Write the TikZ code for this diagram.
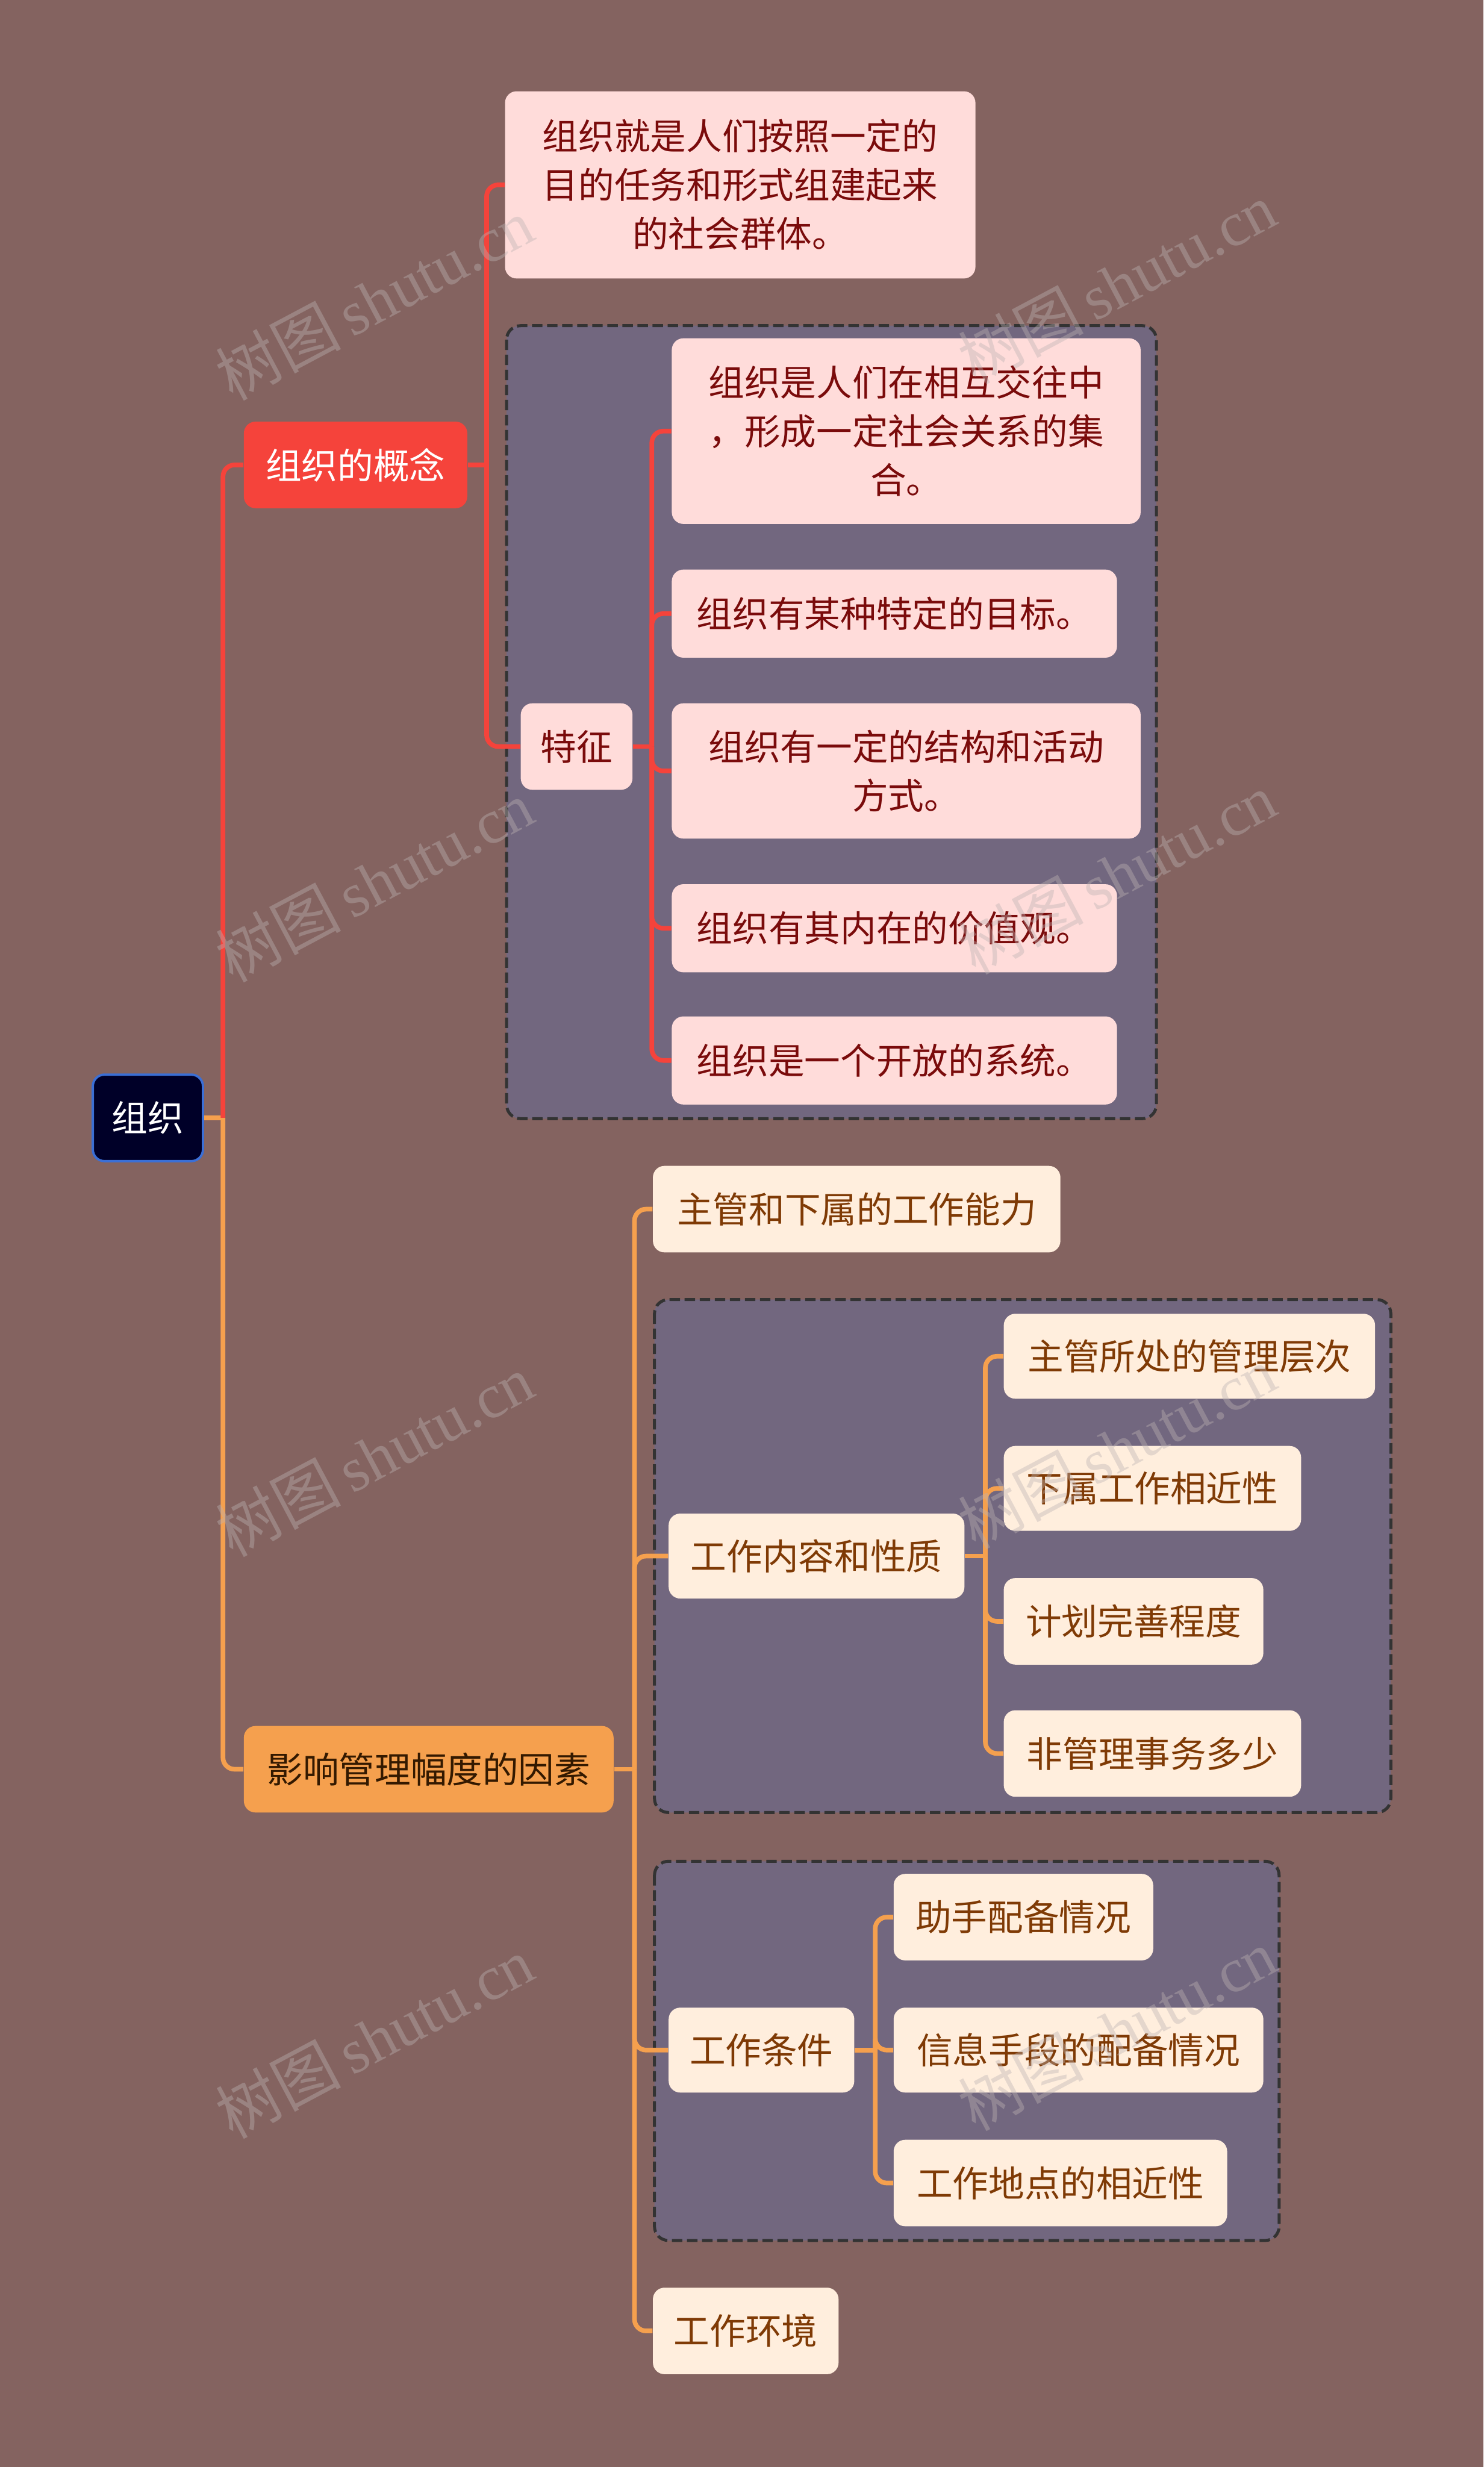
\documentclass[tikz,border=0pt]{standalone}
\usepackage{fontspec}
\newfontfamily\cjk{Noto Sans CJK SC}
\newfontfamily\wmserif{Liberation Serif}
\usetikzlibrary{calc}
\definecolor{bg}{HTML}{846360}
\definecolor{grpfill}{HTML}{72677F}
\definecolor{grpline}{HTML}{333333}
\definecolor{redc}{HTML}{F5433B}
\definecolor{orangec}{HTML}{F5A04E}
\definecolor{pinkfill}{HTML}{FFDCDA}
\definecolor{pinktext}{HTML}{7A0B0B}
\definecolor{creamfill}{HTML}{FFEEDD}
\definecolor{creamtext}{HTML}{7F3A05}
\definecolor{rootfill}{HTML}{000028}
\definecolor{rootline}{HTML}{3B6FD6}
\definecolor{wmcol}{HTML}{BDB3B3}
\tikzset{
  base/.style={rectangle, rounded corners=5pt, inner sep=0pt, align=center, anchor=center},
  sz/.style 2 args={minimum width=#1*0.6787pt, minimum height=#2*0.6787pt},
  rootbox/.style={base, fill=rootfill, draw=rootline, line width=1pt, text=white},
  redbox/.style={base, fill=redc, text=white},
  pinkbox/.style={base, fill=pinkfill, text=pinktext},
  orangebox/.style={base, fill=orangec, text=black!80!orange},
  creambox/.style={base, fill=creamfill, text=creamtext},
  grp/.style={fill=grpfill, draw=grpline, line width=1.3pt, dash pattern=on 4.5pt off 2pt, rounded corners=6pt},
  redline/.style={draw=redc, line width=2pt, rounded corners=5pt},
  orangeline/.style={draw=orangec, line width=2pt, rounded corners=5pt},
  wm/.style={text=wmcol, text opacity=0.4, rotate=28, font=\cjk\fontsize{27pt}{27pt}\selectfont}
}
\begin{document}
\begin{tikzpicture}[x=0.6787pt, y=-0.6787pt, font=\cjk\fontsize{15.5pt}{21pt}\selectfont]
\fill[bg] (0,0) rectangle (943,1568);
\useasboundingbox (0,0) rectangle (943,1568);

% group boxes
\draw[grp] (322,207) rectangle (735,711);
\draw[grp] (416,826) rectangle (884,1152);
\draw[grp] (416,1183) rectangle (813,1424);

% nodes
\node[rootbox, sz={70}{55}] (root) at (94,710.5) {组织};
\node[redbox, sz={142}{55}] (concept) at (226,295.5) {组织的概念};
\node[pinkbox, sz={299}{119}] (def) at (470.5,117.5) {组织就是人们按照一定的\\目的任务和形式组建起来\\的社会群体。};
\node[pinkbox, sz={71}{55}] (tz) at (366.5,474.5) {特征};
\node[pinkbox, sz={298}{118}] (f1) at (576,274) {组织是人们在相互交往中\\，形成一定社会关系的集\\合。};
\node[pinkbox, sz={283}{56}] (f2) at (568.5,390) {组织有某种特定的目标。};
\node[pinkbox, sz={298}{86}] (f3) at (576,490) {组织有一定的结构和活动\\方式。};
\node[pinkbox, sz={283}{56}] (f4) at (568.5,590) {组织有其内在的价值观。};
\node[pinkbox, sz={283}{56}] (f5) at (568.5,674) {组织是一个开放的系统。};

\node[orangebox, sz={235}{55}] (yx) at (272.5,1124.5) {影响管理幅度的因素};
\node[creambox, sz={259}{55}] (a1) at (544.5,768.5) {主管和下属的工作能力};
\node[creambox, sz={188}{54}] (a2) at (519,989) {工作内容和性质};
\node[creambox, sz={236}{54}] (b1) at (756,862) {主管所处的管理层次};
\node[creambox, sz={189}{54}] (b2) at (732.5,946) {下属工作相近性};
\node[creambox, sz={165}{55}] (b3) at (720.5,1030.5) {计划完善程度};
\node[creambox, sz={189}{55}] (b4) at (732.5,1114.5) {非管理事务多少};
\node[creambox, sz={118}{54}] (a3) at (484,1303) {工作条件};
\node[creambox, sz={165}{55}] (c1) at (650.5,1218.5) {助手配备情况};
\node[creambox, sz={235}{54}] (c2) at (685.5,1303) {信息手段的配备情况};
\node[creambox, sz={212}{55}] (c3) at (674,1387.5) {工作地点的相近性};
\node[creambox, sz={118}{55}] (a4) at (474,1481.5) {工作环境};

% connectors
\coordinate (j0) at ($(root.east)+(12,0)$);
\draw[orangeline] (root.east) -- (j0);
\draw[redline] (j0) |- (concept.west);
\draw[orangeline] (j0) |- (yx.west);

\coordinate (j1) at ($(concept.east)+(12,0)$);
\draw[redline] (concept.east) -- (j1);
\draw[redline] (j1) |- (def.west);
\draw[redline] (j1) |- (tz.west);

\coordinate (j2) at ($(tz.east)+(12,0)$);
\draw[redline] (tz.east) -- (j2);
\foreach \c in {f1,f2,f3,f4,f5} \draw[redline] (j2) |- (\c.west);

\coordinate (j3) at ($(yx.east)+(13,0)$);
\draw[orangeline] (yx.east) -- (j3);
\foreach \c in {a1,a2,a3,a4} \draw[orangeline] (j3) |- (\c.west);

\coordinate (j4) at ($(a2.east)+(13,0)$);
\draw[orangeline] (a2.east) -- (j4);
\foreach \c in {b1,b2,b3,b4} \draw[orangeline] (j4) |- (\c.west);

\coordinate (j5) at ($(a3.east)+(13,0)$);
\draw[orangeline] (a3.east) -- (j5);
\foreach \c in {c1,c2,c3} \draw[orangeline] (j5) |- (\c.west);

% watermarks
\foreach \p in {(238,190),(710,180),(238,560),(710,555),(238,925),(710,920),(238,1295),(710,1290)}
  \node[wm] at \p {树图\,{\wmserif shutu.cn}};
\end{tikzpicture}
\end{document}
